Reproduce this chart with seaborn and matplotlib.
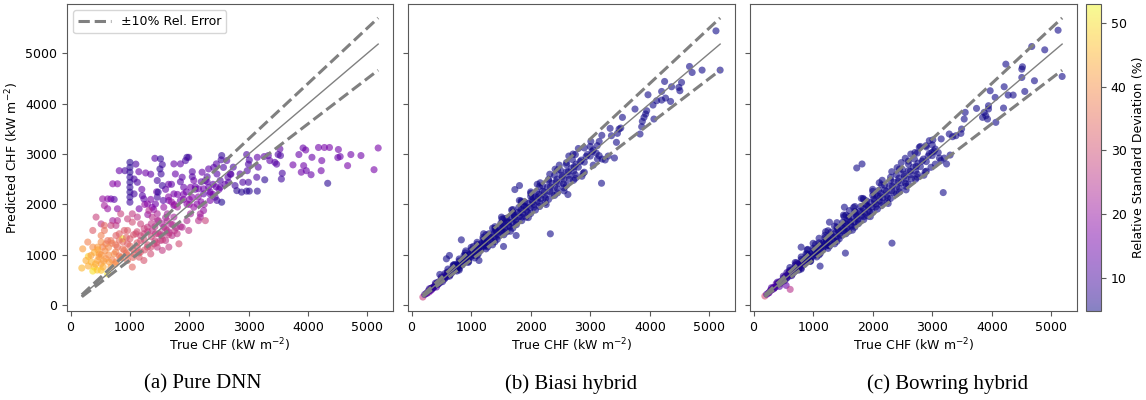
import numpy as np
import matplotlib
matplotlib.use("Agg")
import matplotlib.pyplot as plt
import matplotlib.colors as mcolors
import seaborn as sns
import pandas as pd

# ---------------------------------------------------------------------------
# Pure DNN: true vs predicted CHF (kW m^-2) and relative standard deviation (%)
# ---------------------------------------------------------------------------
dnn_true = [
    # high-CHF plateau
    5180, 5110, 4890, 4720, 4665, 4510, 4540, 4500, 4360, 4275,
    4230, 4220, 4330, 4175, 4065, 4050, 3960, 3915, 3925, 3885,
    3970, 3845, 3745, 3525, 3495, 3440, 3550, 3565, 3535, 3470,
    3330, 3355, 3260, 3145, 3270, 3160, 3135, 3145, 3010, 2965,
    2995, 2900, 2995, 2965, 3010, 2975, 2855, 2800, 2770, 2880,
    2740, 2690, 2660,
    # mid range
    2545, 2535, 2455, 2410, 2325, 2215, 2270, 2465, 2520, 2575,
    2630, 2650, 2520, 2435, 2545, 2465, 2350, 2240, 2155, 2075,
    1990, 1960, 1935, 1850, 1740, 1765, 1880, 1905, 2020, 2045,
    2130, 1960, 1850, 1740, 1740, 1655, 1630, 1570,
    2240, 2185, 2270, 2020, 1960, 1880, 1795, 1825, 1570, 1515,
    1430, 1460, 1990, 2155, 2075, 2185, 2350, 2325, 2240,
    1300, 1350, 1400, 1450, 1600, 1650, 1700, 1750, 1800, 1850,
    1900, 1950, 2000, 2050, 2100, 2150, 2200, 2250, 2300, 2350,
    2400, 2450, 1200, 1250, 1350, 1650, 1700, 1800, 1900, 2000,
    2100, 2200, 2300, 2400, 2500, 2600, 2700, 1150, 1100, 2050,
    # column near 1000
    1000, 1000, 1000, 1000, 1000, 1000, 1000, 1000, 1000, 1070,
    1125, 915, 820, 1070, 1210, 1155, 1265, 1235,
    # left group
    790, 710, 735, 680, 625, 540, 625, 570, 710, 790,
    765, 680, 515, 430, 375, 790,
    # column near 1500
    1420, 1515, 1545, 1505, 1525, 1460, 1545, 1475, 1460, 1560,
    1430, 1375, 1295,
    # low-CHF band
    190, 300, 300, 400, 455, 515, 595, 375, 515, 625,
    680, 485, 540, 455, 515, 595, 680, 765, 790, 875,
    905, 845, 735, 765, 960, 1040, 960, 1070, 1125, 1180,
    1100, 1235, 1295, 1350, 1235, 1155, 1405, 1460, 1515, 1545,
    1375, 1295, 1180, 1040, 960, 905, 820, 625, 515, 570,
    290, 375, 345, 260, 205, 1630, 1685, 1740, 1630, 1710,
    1600, 1655, 1460, 1375, 1320, 1125, 960, 1040, 845, 570,
    350, 420, 480, 560, 640, 700, 760, 820, 880, 940,
    1000, 1060, 1120, 1180, 1240, 1300, 1360, 1420, 1480, 1540,
    1600, 1660, 1720, 1780, 400, 460, 520, 580, 640, 700,
    760, 820, 880, 940, 1000, 1060, 1120, 1180, 1240, 1300,
    1360, 1420, 1480, 1540, 1600, 450, 550, 650, 750, 850,
    950, 1050, 1150, 1250, 1350, 1450, 1550, 1650, 1750, 1850,
]
dnn_pred = [
    3120, 2690, 2970, 2990, 2770, 3090, 2950, 2930, 3130, 3130,
    2870, 2670, 2420, 3130, 2935, 2590, 3080, 3120, 2770, 2640,
    2670, 2990, 2785, 3100, 2990, 2835, 2505, 2620, 2970, 2800,
    2970, 2870, 2950, 2935, 2490, 2740, 2540, 2265, 2265, 2265,
    2440, 2440, 2800, 2990, 2880, 2670, 2605, 2275, 2375, 2245,
    2740, 2605, 2440,
    2970, 2885, 2805, 2735, 2705, 2640, 2475, 2605, 2475, 2735,
    2870, 2540, 2340, 2145, 2045, 2080, 2210, 2210, 2310, 2475,
    2935, 2935, 2870, 2805, 2805, 2605, 2540, 2340, 2340, 2145,
    2010, 2010, 2080, 2210, 1980, 2080, 1815, 1945,
    1880, 1750, 1680, 1815, 1680, 1550, 1420, 1220, 1550, 1420,
    1420, 1680, 1485, 1680, 1945, 1815, 2080, 2340, 2310,
    1800, 2100, 1900, 2250, 2300, 2150, 2400, 2000, 2200, 2450,
    2100, 2250, 2000, 2550, 2300, 2150, 2450, 2000, 2550, 2250,
    2400, 2350, 2300, 2000, 2600, 2400, 2050, 1950, 2200, 2100,
    2350, 2050, 2450, 2200, 2300, 2400, 2600, 2650, 2800, 2650,
    2835, 2735, 2640, 2540, 2440, 2340, 2245, 2145, 2045, 2505,
    2440, 2670, 2670, 2210, 2175, 1915, 2625, 2110,
    2410, 2410, 2100, 2110, 2110, 2110, 1915, 1980, 1680, 1680,
    1585, 1585, 1615, 1750, 1485, 1915,
    2915, 2905, 2790, 2705, 2605, 2475, 2375, 2245, 2145, 2080,
    2010, 1945, 2010,
    740, 780, 970, 760, 890, 825, 925, 680, 695, 625,
    760, 1020, 1155, 1155, 1255, 1220, 1285, 1385, 1155, 1320,
    1090, 955, 1020, 860, 890, 760, 1220, 1020, 1155, 1285,
    1420, 1420, 1155, 1020, 890, 955, 1220, 1155, 1285, 1090,
    1485, 1550, 1615, 1650, 1485, 1485, 1420, 1285, 1385, 1485,
    1255, 1155, 990, 890, 1120, 1485, 1615, 1750, 1680, 1385,
    1285, 1155, 1815, 1750, 1880, 1750, 1715, 1815, 1815, 1585,
    860, 820, 960, 880, 1000, 900, 1060, 980, 1120, 1040,
    1180, 1100, 1240, 1060, 1300, 1200, 1360, 1280, 1420, 1380,
    1520, 1440, 1600, 1540, 1050, 1100, 1000, 1080, 1150, 1230,
    1200, 1290, 1260, 1350, 1320, 1400, 1460, 1380, 1520, 1460,
    1620, 1560, 1680, 1620, 1740, 700, 760, 860, 820, 940,
    1000, 950, 1040, 1100, 1150, 1240, 1300, 1400, 1480, 1560,
]
dnn_rsd = [
    16, 16, 15, 15, 16, 15, 14, 14, 16, 16,
    15, 15, 7, 15, 14, 14, 15, 14, 15, 15,
    14, 14, 15, 13, 11, 12, 9, 10, 11, 12,
    12, 13, 13, 13, 7, 12, 11, 7, 7, 7,
    10, 11, 11, 11, 11, 11, 12, 7, 9, 7,
    10, 11, 12,
    8, 10, 12, 12, 13, 14, 13, 12, 11, 11,
    12, 12, 13, 14, 6, 10, 14, 13, 15, 15,
    11, 8, 10, 13, 14, 14, 13, 14, 16, 18,
    18, 18, 16, 16, 18, 17, 22, 20,
    20, 22, 28, 22, 24, 24, 26, 30, 24, 26,
    27, 24, 26, 25, 20, 22, 16, 14, 15,
    20, 16, 20, 14, 14, 18, 13, 20, 16, 12,
    18, 15, 20, 12, 15, 18, 13, 20, 12, 15,
    13, 14, 14, 20, 13, 14, 20, 22, 16, 18,
    14, 18, 13, 16, 14, 13, 12, 14, 11, 12,
    7, 7, 7, 8, 7, 8, 7, 8, 9, 10,
    11, 10, 14, 10, 12, 16, 15, 13,
    18, 18, 12, 14, 18, 20, 20, 22, 22, 24,
    26, 28, 26, 28, 32, 18,
    12, 8, 9, 8, 9, 10, 9, 8, 10, 12,
    15, 17, 18,
    45, 44, 48, 46, 43, 42, 40, 50, 47, 51,
    42, 40, 38, 42, 40, 38, 36, 33, 35, 53,
    36, 37, 40, 38, 35, 34, 32, 33, 31, 30,
    30, 28, 30, 30, 31, 32, 28, 27, 26, 27,
    26, 27, 28, 30, 32, 32, 33, 36, 38, 36,
    38, 40, 42, 44, 42, 24, 24, 22, 25, 25,
    26, 27, 23, 25, 24, 26, 28, 27, 28, 34,
    45, 44, 42, 42, 40, 38, 38, 36, 36, 35,
    34, 33, 32, 31, 30, 30, 29, 28, 27, 26,
    26, 25, 24, 24, 44, 43, 41, 40, 39, 37,
    36, 35, 34, 33, 32, 31, 30, 29, 28, 27,
    26, 25, 24, 23, 22, 47, 44, 42, 40, 38,
    36, 34, 32, 31, 30, 29, 28, 27, 26, 24,
]

# ---------------------------------------------------------------------------
# Hybrid models: dense band of test cases shared by both hybrids
# ---------------------------------------------------------------------------
band_true = [
    220, 250, 280, 310, 340, 370, 400, 430, 460, 480,
    500, 520, 540, 560, 580, 600, 620, 640, 660, 680,
    700, 720, 740, 760, 780, 800, 820, 840, 860, 880,
    900, 920, 940, 960, 980, 1000, 1020, 1040, 1060, 1080,
    1100, 1120, 1140, 1160, 1180, 1200, 1220, 1240, 1260, 1280,
    1300, 1330, 1360, 1390, 1420, 1450, 1480, 1510, 1540, 1570,
    1600, 1630, 1660, 1690, 1720, 1750, 1780, 1810, 1840, 1870,
    1900, 1930, 1960, 1990, 2020, 2050, 2080, 2110, 2140, 2170,
    2200, 2240, 2280, 2320, 2360, 2400, 2440, 2480, 2520, 2560,
    2600, 2640, 2680, 2720, 2760, 2800, 2850, 2900, 2950, 3000,
    3050, 3100, 700, 800, 900, 1000, 1100, 1250, 1400, 1550,
    1700, 1850, 2000, 2150, 2300, 2450, 2600, 2750, 2900, 3000,
    800, 950, 1100, 1250, 1400, 1550, 1700, 1850, 2000, 2150,
    2300, 2450, 2600, 2750, 2900, 3050, 3200, 3300,
    300, 350, 400, 450, 500, 550, 600, 650, 700, 750,
    800, 850, 900, 950, 1000, 1050, 1100, 1150, 1200, 1250,
    1300, 1350, 1400, 1450, 1500, 1550, 1600, 1650, 1700, 1750,
    1800, 1850, 1900, 1950, 2000, 2050, 2100, 2150, 2200, 2250,
    2300, 2350, 2400, 2450, 2500, 2550, 2600, 2650, 2700, 2750,
    330, 430, 530, 630, 730, 830, 930, 1030, 1130, 1230,
    1330, 1430, 1530, 1630, 1730, 1830, 1930, 2030, 2130, 2230,
    2330, 2430, 2530, 2630, 2730, 2830, 2930, 3030, 610, 910,
    1210, 1510, 1810, 2110, 2410, 2710, 3010, 3150, 760, 1060,
    1360, 1660, 1960, 2260, 2560, 2860, 3120, 1500, 1200, 900,
    560, 640, 720, 800, 880, 960, 1040, 1120, 1200, 1280,
    1360, 1440, 1520, 1600, 1680, 1760, 1840, 1920, 2000, 2080,
    2160, 2240, 2320, 2400, 2480, 2560, 2640, 2720, 2800, 2880,
    600, 760, 920, 1080, 1240, 1400, 1560, 1720, 1880, 2040,
]
biasi_band_pred = [
    215, 240, 285, 300, 345, 355, 410, 420, 470, 455,
    520, 470, 560, 540, 600, 570, 650, 610, 700, 650,
    720, 690, 800, 740, 790, 770, 860, 820, 900, 850,
    940, 890, 990, 930, 1010, 970, 1080, 1010, 1100, 1040,
    1150, 1090, 1200, 1130, 1230, 1160, 1280, 1200, 1310, 1250,
    1360, 1290, 1400, 1350, 1480, 1400, 1530, 1470, 1600, 1530,
    1660, 1580, 1720, 1650, 1780, 1700, 1840, 1760, 1900, 1820,
    1960, 1880, 2020, 1940, 2090, 2000, 2150, 2060, 2200, 2120,
    2260, 2180, 2340, 2260, 2420, 2340, 2500, 2420, 2580, 2500,
    2650, 2580, 2720, 2660, 2800, 2740, 2880, 2840, 2990, 2960,
    3080, 3020, 800, 920, 1040, 1150, 1250, 1400, 1560, 1720,
    1900, 2050, 2220, 2360, 2500, 2680, 2830, 2990, 3120, 3150,
    700, 850, 990, 1120, 1260, 1400, 1530, 1680, 1820, 1960,
    2100, 2230, 2380, 2520, 2640, 2780, 2900, 2960,
    330, 340, 440, 430, 560, 520, 660, 610, 780, 710,
    880, 800, 990, 890, 1100, 990, 1210, 1080, 1310, 1180,
    1420, 1270, 1520, 1370, 1630, 1460, 1730, 1560, 1840, 1650,
    1940, 1750, 2050, 1840, 2160, 1940, 2260, 2030, 2370, 2120,
    2470, 2220, 2580, 2310, 2680, 2410, 2790, 2500, 2890, 2590,
    340, 450, 540, 650, 740, 850, 950, 1050, 1150, 1250,
    1350, 1450, 1550, 1650, 1750, 1850, 1950, 2050, 2150, 2250,
    2350, 2450, 2550, 2650, 2750, 2850, 2950, 3050, 720, 1080,
    1420, 1750, 2080, 2400, 2700, 3000, 3250, 3250, 680, 940,
    1200, 1470, 1740, 2000, 2270, 2560, 2900, 1500, 1190, 910,
    630, 580, 810, 730, 990, 870, 1170, 1020, 1350, 1160,
    1530, 1310, 1710, 1460, 1890, 1600, 2070, 1750, 2250, 1890,
    2430, 2040, 2600, 2180, 2780, 2330, 2960, 2480, 3110, 2620,
    640, 800, 960, 1140, 1300, 1470, 1630, 1810, 1970, 2140,
]
bowring_band_pred = [
    220, 245, 290, 310, 350, 365, 420, 430, 480, 470,
    540, 490, 580, 550, 620, 580, 680, 620, 720, 660,
    740, 700, 820, 750, 800, 780, 880, 830, 930, 860,
    960, 900, 1010, 940, 1030, 980, 1100, 1020, 1120, 1050,
    1170, 1100, 1220, 1140, 1250, 1170, 1300, 1210, 1330, 1260,
    1380, 1300, 1420, 1360, 1500, 1410, 1550, 1480, 1620, 1540,
    1680, 1590, 1740, 1660, 1800, 1710, 1860, 1770, 1920, 1830,
    1980, 1890, 2040, 1950, 2110, 2010, 2170, 2070, 2220, 2130,
    2280, 2190, 2360, 2270, 2440, 2350, 2520, 2430, 2600, 2510,
    2670, 2590, 2740, 2670, 2820, 2750, 2900, 2850, 3010, 2970,
    3100, 3030, 850, 960, 1100, 1230, 1330, 1480, 1640, 1790,
    1960, 2100, 2260, 2390, 2540, 2700, 2860, 3020, 3140, 3180,
    720, 870, 1000, 1130, 1270, 1420, 1550, 1700, 1840, 1980,
    2120, 2250, 2400, 2540, 2660, 2800, 2920, 2980,
    350, 345, 460, 440, 580, 530, 690, 620, 800, 720,
    910, 810, 1020, 900, 1130, 1000, 1240, 1090, 1340, 1190,
    1450, 1280, 1550, 1380, 1650, 1470, 1760, 1570, 1860, 1660,
    1960, 1760, 2070, 1850, 2180, 1950, 2280, 2040, 2380, 2130,
    2480, 2230, 2590, 2320, 2690, 2420, 2800, 2510, 2900, 2600,
    350, 460, 560, 660, 760, 860, 970, 1070, 1170, 1270,
    1370, 1470, 1570, 1660, 1760, 1860, 1960, 2060, 2160, 2260,
    2360, 2460, 2560, 2660, 2760, 2860, 2960, 3060, 750, 1110,
    1460, 1790, 2120, 2430, 2730, 3030, 3280, 3300, 700, 960,
    1220, 1490, 1760, 2020, 2290, 2580, 2920, 1530, 1210, 930,
    650, 590, 840, 740, 1020, 880, 1210, 1030, 1390, 1180,
    1570, 1320, 1760, 1470, 1940, 1620, 2120, 1770, 2300, 1910,
    2480, 2060, 2650, 2210, 2830, 2360, 3000, 2500, 3150, 2650,
    650, 820, 990, 1160, 1330, 1500, 1670, 1840, 2010, 2190,
]
biasi_band_rsd = [
    9, 8, 8, 7, 7, 6, 6, 6, 6, 6,
    6, 6, 6, 5, 5, 5, 5, 5, 5, 5,
    5, 5, 5, 5, 5, 5, 5, 5, 5, 5,
    5, 5, 5, 5, 5, 5, 5, 5, 5, 5,
    5, 5, 5, 5, 5, 5, 5, 5, 5, 5,
    5, 5, 5, 5, 5, 5, 5, 5, 5, 5,
    5, 5, 5, 5, 5, 5, 5, 5, 5, 5,
    5, 5, 5, 5, 5, 5, 5, 5, 5, 5,
    5, 5, 5, 5, 5, 5, 5, 5, 5, 5,
    5, 5, 5, 5, 5, 5, 5, 5, 5, 5,
    5, 5, 5, 5, 5, 5, 5, 5, 5, 5,
    5, 5, 5, 5, 5, 5, 5, 5, 5, 5,
    5, 5, 5, 5, 5, 5, 5, 5, 5, 5,
    5, 5, 5, 5, 5, 5, 5, 5,
    8, 7, 7, 6, 6, 6, 5, 5, 5, 5,
    5, 5, 5, 5, 5, 5, 5, 5, 5, 5,
    5, 5, 5, 5, 5, 5, 5, 5, 5, 5,
    5, 5, 5, 5, 5, 5, 5, 5, 5, 5,
    5, 5, 5, 5, 5, 5, 5, 5, 5, 5,
    8, 6, 6, 5, 5, 5, 5, 5, 5, 5,
    5, 5, 5, 5, 5, 5, 5, 5, 5, 5,
    5, 5, 5, 5, 5, 5, 5, 5, 5, 5,
    5, 5, 5, 5, 5, 5, 5, 5, 5, 5,
    5, 5, 5, 5, 5, 5, 5, 5, 5, 5,
    6, 6, 5, 5, 5, 5, 5, 5, 5, 5,
    5, 5, 5, 5, 5, 5, 5, 5, 5, 5,
    5, 5, 5, 5, 5, 5, 5, 5, 5, 5,
    6, 5, 5, 5, 5, 5, 5, 5, 5, 5,
]
bowring_band_rsd = [
    12, 11, 10, 10, 9, 9, 8, 8, 8, 7,
    7, 7, 7, 6, 6, 6, 6, 6, 6, 6,
    5, 5, 5, 5, 5, 5, 5, 5, 5, 5,
    5, 5, 5, 5, 5, 5, 5, 5, 5, 5,
    5, 5, 5, 5, 5, 5, 5, 5, 5, 5,
    5, 5, 5, 5, 5, 5, 5, 5, 5, 5,
    5, 5, 5, 5, 5, 5, 5, 5, 5, 5,
    5, 5, 5, 5, 5, 5, 5, 5, 5, 5,
    5, 5, 5, 5, 5, 5, 5, 5, 5, 5,
    5, 5, 5, 5, 5, 5, 5, 5, 5, 5,
    5, 5, 5, 5, 5, 5, 5, 5, 5, 5,
    5, 5, 5, 5, 5, 5, 5, 5, 5, 5,
    5, 5, 5, 5, 5, 5, 5, 5, 5, 5,
    5, 5, 5, 5, 5, 5, 5, 5,
    11, 10, 9, 9, 8, 7, 7, 6, 6, 6,
    5, 5, 5, 5, 5, 5, 5, 5, 5, 5,
    5, 5, 5, 5, 5, 5, 5, 5, 5, 5,
    5, 5, 5, 5, 5, 5, 5, 5, 5, 5,
    5, 5, 5, 5, 5, 5, 5, 5, 5, 5,
    11, 9, 8, 7, 6, 6, 5, 5, 5, 5,
    5, 5, 5, 5, 5, 5, 5, 5, 5, 5,
    5, 5, 5, 5, 5, 5, 5, 5, 5, 5,
    5, 5, 5, 5, 5, 5, 5, 5, 5, 5,
    5, 5, 5, 5, 5, 5, 5, 5, 5, 5,
    7, 7, 6, 6, 5, 5, 5, 5, 5, 5,
    5, 5, 5, 5, 5, 5, 5, 5, 5, 5,
    5, 5, 5, 5, 5, 5, 5, 5, 5, 5,
    7, 6, 5, 5, 5, 5, 5, 5, 5, 5,
]

# Biasi hybrid: sparse high-CHF cases and low-CHF cases
biasi_true = [
    5110, 5180, 4877, 4710, 4666, 4532, 4504, 4487, 4365, 4348,
    4248, 4264, 4198, 4198, 4114, 4053, 3969, 3947, 3930, 3902,
    3874, 4069, 3863, 3835, 3751, 3540, 3484, 3512, 3456, 3439,
    3333, 3355, 3406, 3250, 3194, 3189, 3116, 3149, 2330, 1812,
    1734, 2625, 836, 1544, 1132, 585, 636, 474, 1756,
    190, 295, 418, 350, 380, 450, 330, 260,
]
biasi_pred = [
    5442, 4664, 4664, 4617, 4736, 4420, 4255, 4321, 4334, 4043,
    4439, 4110, 4241, 4070, 4057, 3971, 4175, 3859, 3793, 3727,
    3648, 3694, 3542, 3397, 3892, 3727, 3496, 3516, 3410, 3232,
    3509, 3364, 2922, 2883, 3371, 2421, 3166, 2968, 1418, 2375,
    2296, 2197, 1299, 1168, 890, 923, 989, 613, 1385,
    165, 264, 363, 330, 370, 420, 300, 240,
]
biasi_rsd = [
    4.8, 5, 5, 5, 5, 5, 5, 5, 5, 5,
    5, 5, 5, 5, 5, 5, 5, 5, 5, 5,
    5, 5, 5, 5, 5, 5, 5, 5, 5, 5,
    5, 5, 5, 5, 5, 5, 5, 5, 5, 5,
    5, 5, 5, 5, 5, 5, 5, 5, 5,
    28, 18, 12, 14, 10, 9, 15, 20,
]

# Bowring hybrid: sparse high-CHF cases and low-CHF cases
bowring_true = [
    5112, 4670, 4888, 5180, 4715, 4553, 4503, 4514, 4503, 4358,
    4274, 4207, 4235, 4196, 4056, 4067, 3972, 3944, 3944, 3899,
    3872, 3844, 3927, 3743, 3553, 3536, 3492, 3480, 3397, 3341,
    3285, 3240, 3145, 3184, 2978, 2994, 2950, 2894, 2782, 2547,
    1732, 1821, 2324, 1542, 1117, 799, 1525, 1609, 1274,
    190, 296, 436, 380, 492, 547, 615, 340, 420, 260,
]
bowring_pred = [
    5455, 5132, 5066, 4538, 4453, 4241, 4518, 4730, 4683, 4169,
    4169, 4334, 4782, 3912, 4123, 3628, 4255, 3958, 3892, 3760,
    3826, 3727, 3694, 3905, 3826, 3694, 3496, 3410, 3364, 3344,
    3397, 2803, 2870, 2236, 2737, 3034, 3265, 3166, 3133, 2916,
    2724, 2803, 1234, 1036, 778, 1154, 1946, 1880, 1649,
    185, 310, 376, 429, 495, 396, 317, 330, 440, 250,
]
bowring_rsd = [
    5, 5, 5, 5, 5, 5, 5, 5, 5, 5,
    5, 5, 5, 5, 5, 5, 5, 5, 5, 5,
    5, 5, 5, 5, 5, 5, 5, 5, 5, 5,
    5, 5, 5, 5, 5, 5, 5, 5, 5, 5,
    5, 5, 5, 5, 5, 5, 5, 5, 5,
    30, 18, 12, 14, 12, 14, 25, 16, 11, 20,
]

captions = ["(a) Pure DNN", "(b) Biasi hybrid", "(c) Bowring hybrid"]
xticks = [0, 1000, 2000, 3000, 4000, 5000]
yticks = [0, 1000, 2000, 3000, 4000, 5000]

# ---------------------------------------------------------------------------
panels = [
    pd.DataFrame({"true": dnn_true, "pred": dnn_pred, "rsd": dnn_rsd}),
    pd.DataFrame({"true": biasi_true + band_true,
                  "pred": biasi_pred + biasi_band_pred,
                  "rsd": biasi_rsd + biasi_band_rsd}),
    pd.DataFrame({"true": bowring_true + band_true,
                  "pred": bowring_pred + bowring_band_pred,
                  "rsd": bowring_rsd + bowring_band_rsd}),
]

all_rsd = pd.concat([p["rsd"] for p in panels])
norm = mcolors.Normalize(vmin=all_rsd.min(), vmax=all_rsd.max())
cmap = plt.get_cmap("plasma")
all_true = pd.concat([p["true"] for p in panels])
ref = np.array([all_true.min(), all_true.max()])

W, H = 1146, 400
fig = plt.figure(figsize=(W / 100, H / 100), dpi=100)

def px_rect(left, right, top=4, bottom=311):
    return [left / W, 1 - bottom / H, (right - left) / W, (bottom - top) / H]

rects = [px_rect(67, 393), px_rect(408, 735), px_rect(750, 1077)]
axes = []
for rect in rects:
    ax = fig.add_axes(rect, sharey=axes[0] if axes else None)
    axes.append(ax)

spine_col = "0.35"
for i, (ax, df) in enumerate(zip(axes, panels)):
    sns.scatterplot(data=df, x="true", y="pred", hue="rsd", palette="plasma",
                    hue_norm=norm, alpha=0.6, s=26, linewidth=0,
                    legend=False, ax=ax, zorder=2)
    ax.plot(ref, ref, color="gray", lw=1.0, zorder=3)
    ax.plot(ref, 1.1 * ref, color="gray", lw=2.2, ls="--", zorder=3,
            label="\u00b110% Rel. Error")
    ax.plot(ref, 0.9 * ref, color="gray", lw=2.2, ls="--", zorder=3)
    ax.set_xticks(xticks)
    ax.set_yticks(yticks)
    ax.tick_params(labelsize=9, color=spine_col)
    ax.set_xlabel(r"True CHF (kW m$^{-2}$)", fontsize=9, labelpad=2)
    for sp in ax.spines.values():
        sp.set_color(spine_col)
    if i == 0:
        ax.set_ylabel(r"Predicted CHF (kW m$^{-2}$)", fontsize=9, labelpad=3)
        ax.legend(loc="upper left", fontsize=9, handlelength=2.6)
    else:
        ax.set_ylabel("")
        ax.tick_params(labelleft=False)

cax = fig.add_axes(px_rect(1086, 1101))
sm = plt.cm.ScalarMappable(norm=norm, cmap=cmap)
sm.set_array([])
cb = fig.colorbar(sm, cax=cax, alpha=0.5)
cb.set_ticks([10, 20, 30, 40, 50])
cb.ax.tick_params(labelsize=9, color=spine_col)
cb.outline.set_edgecolor(spine_col)
cb.set_label("Relative Standard Deviation (%)", fontsize=9)

for text, xc in zip(captions, [203, 571, 948]):
    fig.text(xc / W, 1 - 384 / H, text, ha="center", va="center",
             fontsize=15, family="Liberation Serif")

fig.savefig("out.png", dpi=100)
